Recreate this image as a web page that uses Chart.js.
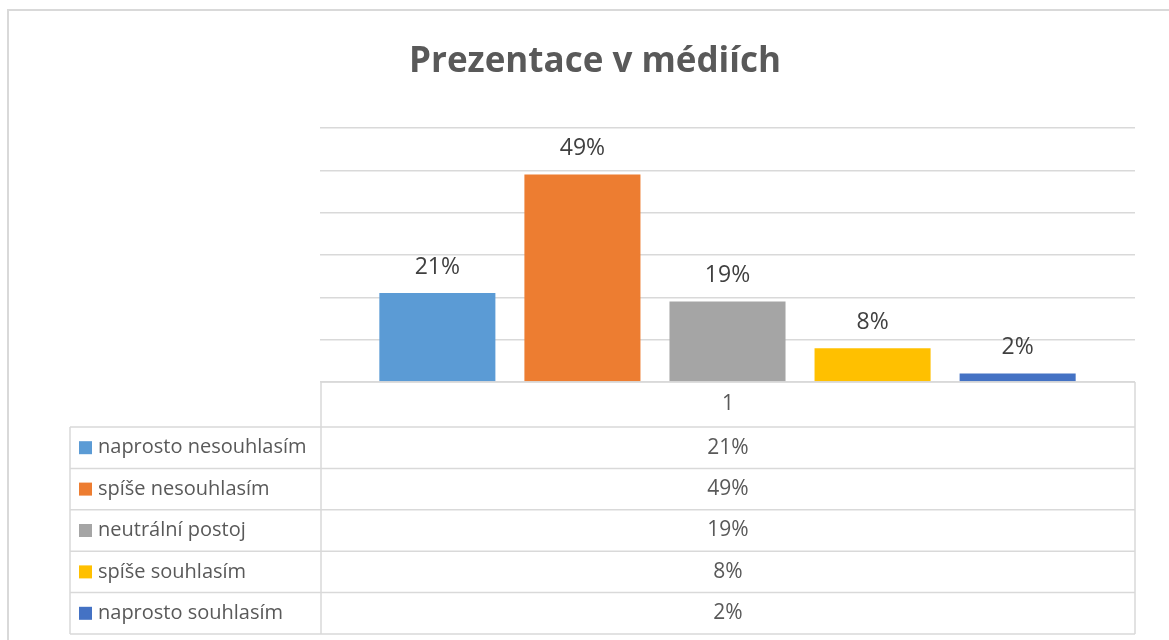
<!DOCTYPE html>
<html lang="cs">
<head>
    <meta charset="UTF-8">
    <title>Prezentace v médiích</title>
    <script src="https://cdn.jsdelivr.net/npm/chart.js"></script>
    <style>
        html, body { margin: 0; padding: 0; background: #fff; }
        #wrap { width: 1169px; height: 640px; }
    </style>
</head>
<body>
    <div id="wrap"><canvas id="myChart"></canvas></div>

    <script>
        // data
        var title = 'Prezentace v médiích';
        var categories = ['1'];
        var seriesNames = ['naprosto nesouhlasím', 'spíše nesouhlasím', 'neutrální postoj', 'spíše souhlasím', 'naprosto souhlasím'];
        var seriesValues = [21, 49, 19, 8, 2];
        var seriesColors = ['#5B9BD5', '#ED7D31', '#A5A5A5', '#FFC000', '#4472C4'];
        var yTicks = [0, 10, 20, 30, 40, 50, 60];

        var FONT = '"Open Sans", sans-serif';

        // labels above bars, title, frame and the data table below the plot
        var excelLook = {
            id: 'excelLook',
            afterDraw: function (chart) {
                var ctx = chart.ctx;
                var area = chart.chartArea;
                ctx.save();

                // outer frame
                ctx.strokeStyle = '#d9d9d9';
                ctx.lineWidth = 2;
                ctx.strokeRect(8, 10, 1175, 650);

                // title
                ctx.fillStyle = '#595959';
                ctx.font = 'bold 35px ' + FONT;
                ctx.textAlign = 'center';
                ctx.textBaseline = 'alphabetic';
                ctx.fillText(title, 595, 72);

                // value labels
                ctx.fillStyle = '#404040';
                ctx.font = '23px ' + FONT;
                ctx.textBaseline = 'middle';
                chart.data.datasets.forEach(function (ds, i) {
                    var bar = chart.getDatasetMeta(i).data[0];
                    ctx.fillText(ds.data[0] + '%', bar.x, bar.y - 26);
                });

                // data table
                var left = 70, mid = area.left + 1, right = area.right;
                var top = area.bottom, headH = 45, rowH = 41.4;
                var tableTop = top + headH;
                var bottom = tableTop + rowH * seriesNames.length;
                ctx.strokeStyle = '#d9d9d9';
                ctx.lineWidth = 1.5;
                ctx.beginPath();
                ctx.moveTo(mid, top); ctx.lineTo(right, top);
                ctx.moveTo(right, top); ctx.lineTo(right, bottom);
                ctx.moveTo(mid, top); ctx.lineTo(mid, bottom);
                ctx.moveTo(left, tableTop); ctx.lineTo(left, bottom);
                for (var r = 0; r <= seriesNames.length; r++) {
                    var yy = tableTop + r * rowH;
                    ctx.moveTo(left, yy); ctx.lineTo(right, yy);
                }
                ctx.stroke();

                var cx = (mid + right) / 2;
                ctx.fillStyle = '#595959';
                ctx.font = '21px ' + FONT;
                ctx.textAlign = 'center';
                ctx.fillText(categories[0], cx, top + headH / 2);

                seriesNames.forEach(function (name, i) {
                    var cy = tableTop + rowH * i + rowH / 2;
                    ctx.fillStyle = seriesColors[i];
                    ctx.fillRect(79, cy - 6.5, 13, 13);
                    ctx.fillStyle = '#595959';
                    ctx.font = '20px ' + FONT;
                    ctx.textAlign = 'left';
                    ctx.fillText(name, 98, cy);
                    ctx.font = '21px ' + FONT;
                    ctx.textAlign = 'center';
                    ctx.fillText(seriesValues[i] + '%', cx, cy);
                });

                ctx.restore();
            }
        };

        var datasets = seriesNames.map(function (name, i) {
            return {
                label: name,
                data: [seriesValues[i]],
                backgroundColor: seriesColors[i],
                categoryPercentage: 0.89,
                barPercentage: 0.8
            };
        });

        var ctx = document.getElementById('myChart').getContext('2d');
        var myChart = new Chart(ctx, {
            type: 'bar',
            data: { labels: categories, datasets: datasets },
            options: {
                responsive: true,
                maintainAspectRatio: false,
                animation: false,
                layout: { padding: { left: 320, right: 34, top: 128, bottom: 258 } },
                plugins: {
                    legend: { display: false },
                    title: { display: false },
                    tooltip: { enabled: false }
                },
                scales: {
                    x: { display: false },
                    y: {
                        min: yTicks[0],
                        max: yTicks[yTicks.length - 1],
                        afterBuildTicks: function (scale) {
                            scale.ticks = yTicks.map(function (v) { return { value: v }; });
                        },
                        ticks: { display: false },
                        border: { display: false },
                        grid: { color: '#d9d9d9', lineWidth: 1.5, drawTicks: false }
                    }
                }
            },
            plugins: [excelLook]
        });
    </script>
</body>
</html>
